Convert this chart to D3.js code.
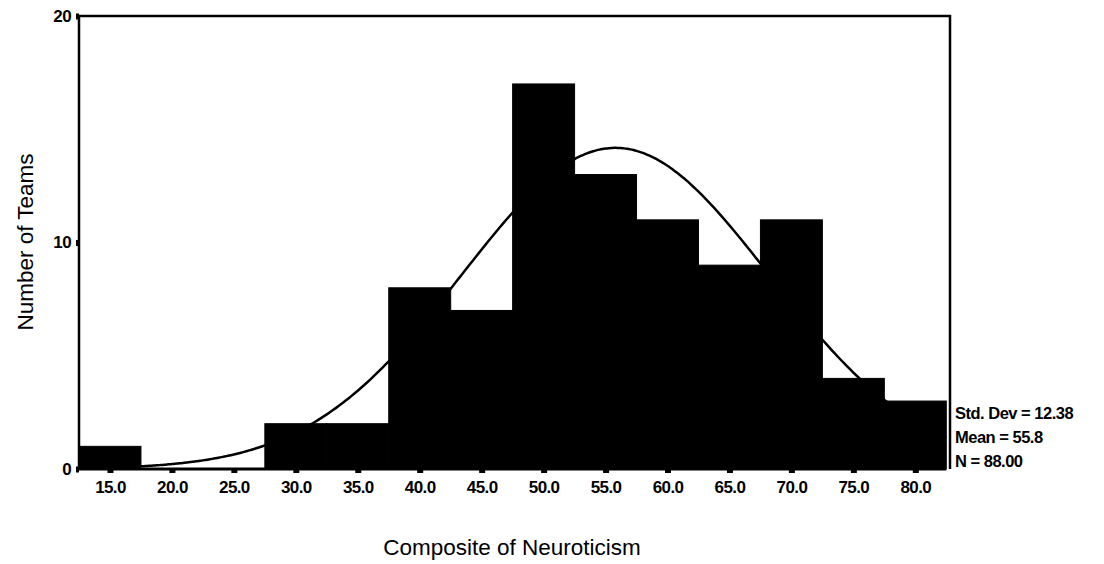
<!DOCTYPE html>
<html>
<head>
<meta charset="utf-8">
<script src="https://cdn.jsdelivr.net/npm/d3@7"></script>
<style>
  html, body { margin: 0; padding: 0; background: #fff; }
  svg { display: block; }
  text { font-family: "Liberation Sans", Arial, sans-serif; fill: #000; }
</style>
</head>
<body>
<svg id="chart" width="1104" height="564"></svg>
<script>
// bin midpoints and counts (bin width 5)
const binMids = [15, 20, 25, 30, 35, 40, 45, 50, 55, 60, 65, 70, 75, 80];
const counts = [1, 0, 0, 2, 2, 8, 7, 17, 13, 11, 9, 11, 4, 3];
const xTicks = [15, 20, 25, 30, 35, 40, 45, 50, 55, 60, 65, 70, 75, 80];
const yTicks = [0, 10, 20];
const stats = { sd: 12.38, mean: 55.8, n: 88 };
const statLines = ["Std. Dev = 12.38", "Mean = 55.8", "N = 88.00"];
const binWidth = 5;

const svg = d3.select("#chart");
const plotLeft = 79, plotRight = 950, plotTop = 16, plotBottom = 469;

const x = d3.scaleLinear().domain([12.5, 82.8]).range([plotLeft, plotRight]);
const y = d3.scaleLinear().domain([0, 20]).range([plotBottom, plotTop]);

// normal curve (drawn first, bars sit on top of it)
const curvePts = d3.range(17.5, 82.51, 0.25).map(v => {
  const z = (v - stats.mean) / stats.sd;
  const dens = Math.exp(-0.5 * z * z) / (stats.sd * Math.sqrt(2 * Math.PI));
  return [v, stats.n * binWidth * dens];
});
svg.append("path")
  .datum(curvePts)
  .attr("fill", "none")
  .attr("stroke", "#000")
  .attr("stroke-width", 2.5)
  .attr("d", d3.line().x(d => x(d[0])).y(d => y(d[1])).curve(d3.curveBasis));

// bars
svg.append("g").selectAll("rect")
  .data(binMids.map((m, i) => ({ m, c: counts[i] })).filter(d => d.c > 0))
  .join("rect")
  .attr("x", d => x(d.m - binWidth / 2))
  .attr("width", d => x(d.m + binWidth / 2) - x(d.m - binWidth / 2))
  .attr("y", d => y(d.c))
  .attr("height", d => y(0) - y(d.c))
  .attr("fill", "#000")
  .attr("stroke", "#000")
  .attr("stroke-width", 1);

// frame: left axis, top, right, baseline
svg.append("path")
  .attr("d", `M${plotLeft},${plotBottom} V${plotTop} H${plotRight} V${plotBottom}`)
  .attr("fill", "none").attr("stroke", "#000").attr("stroke-width", 2.5);
svg.append("line")
  .attr("x1", plotLeft).attr("x2", x(82.5))
  .attr("y1", plotBottom).attr("y2", plotBottom)
  .attr("stroke", "#000").attr("stroke-width", 3);

// x axis
const xAxis = svg.append("g")
  .attr("transform", `translate(0,${plotBottom})`)
  .call(d3.axisBottom(x).tickValues(xTicks).tickFormat(d3.format(".1f")).tickSize(4).tickPadding(8));
xAxis.select(".domain").remove();
xAxis.selectAll(".tick line").attr("stroke", "#000").attr("stroke-width", 6).attr("y1", 0).attr("y2", 4);
xAxis.selectAll(".tick text")
  .attr("font-size", 17).attr("font-weight", "bold")
  .style("font-family", "'Liberation Sans', Arial, sans-serif")
  .attr("letter-spacing", -0.6);

// y axis
const yAxis = svg.append("g")
  .attr("transform", `translate(${plotLeft},0)`)
  .call(d3.axisLeft(y).tickValues(yTicks).tickFormat(d3.format("d")).tickSize(3).tickPadding(5));
yAxis.select(".domain").remove();
yAxis.selectAll(".tick line").attr("stroke", "#000").attr("stroke-width", 6);
yAxis.selectAll(".tick text")
  .attr("font-size", 17).attr("font-weight", "bold")
  .attr("letter-spacing", -0.6)
  .style("font-family", "'Liberation Sans', Arial, sans-serif");

// stats block
svg.append("g").selectAll("text")
  .data(statLines)
  .join("text")
  .attr("x", 955)
  .attr("y", (d, i) => 419 + i * 24)
  .attr("font-size", 16.5)
  .attr("font-weight", "bold")
  .attr("letter-spacing", -0.5)
  .text(d => d);

// axis titles
svg.append("text")
  .attr("x", 512).attr("y", 555)
  .attr("text-anchor", "middle")
  .attr("font-size", 22.5)
  .text("Composite of Neuroticism");

svg.append("text")
  .attr("transform", `translate(33,${242}) rotate(-90)`)
  .attr("text-anchor", "middle")
  .attr("font-size", 22.5)
  .text("Number of Teams");
</script>
</body>
</html>
